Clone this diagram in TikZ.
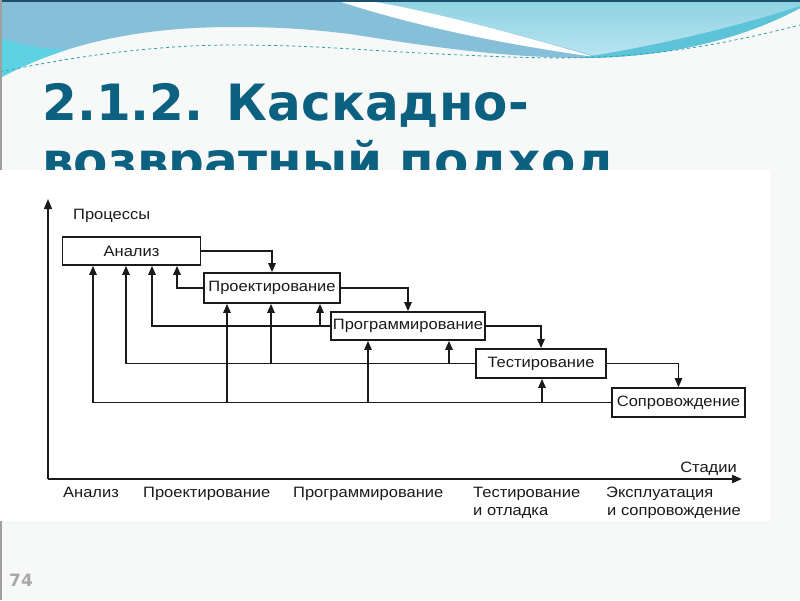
\documentclass[tikz,border=0pt]{standalone}
\usepackage{fontspec}
\setmainfont{DejaVu Sans}
\newfontfamily\diagfont[FakeStretch=1.1]{Liberation Sans}
\usetikzlibrary{arrows.meta}
\definecolor{ink}{HTML}{1A1A1A}
\definecolor{titleblue}{HTML}{0C6080}
\definecolor{slidebg}{HTML}{F7F8F8}
\definecolor{wavemid}{HTML}{85BFD8}
\definecolor{wavecyan}{HTML}{5CD2E2}
\definecolor{wavelightA}{HTML}{8FD2E2}
\definecolor{wavelightB}{HTML}{B8E4F0}
\definecolor{waveteal}{HTML}{5CC3D8}
\definecolor{dashcol}{HTML}{2A9FB0}
\definecolor{topdark}{HTML}{1D4F6E}
\definecolor{pagegray}{HTML}{A8A8A8}
\tikzset{
  box/.style={draw=ink, line width=1.8pt, fill=white, inner sep=0pt,
    font=\diagfont\fontsize{15}{18}\selectfont, text=ink},
  conn/.style={draw=ink, line width=1.4pt},
  arr/.style={conn, -{Triangle[length=9pt,width=7.5pt]}},
  lab/.style={font=\diagfont\fontsize{15}{18}\selectfont, text=ink, inner sep=0pt},
  titletext/.style={anchor=base west, inner sep=0pt, text=titleblue,
    font=\bfseries\fontsize{50}{60}\selectfont},
}
\begin{document}
\begin{tikzpicture}[x=1pt,y=-1pt]
\useasboundingbox (0,0) rectangle (800,600);
% slide background
\fill[slidebg] (0,0) rectangle (800,600);
% wave header
\begin{scope}
\clip (0,0) -- (800,0) -- (800,8) .. controls (750,35) and (680,56) .. (590,58)
  .. controls (500,58) and (420,45) .. (350,34) .. controls (300,28) and (270,27) .. (233,27)
  .. controls (150,27) and (70,40) .. (0,78) -- cycle;
\fill[wavemid] (0,0) rectangle (800,100);
\fill[wavecyan] (0,38) .. controls (25,46) and (50,50) .. (75,50) -- (75,100) -- (0,100) -- cycle;
\shade[top color=wavelightA, bottom color=wavelightB] (362,0) .. controls (420,8) and (520,35) .. (595,56) -- (800,56) -- (800,0) -- cycle;
\fill[white] (335,0) .. controls (420,28) and (510,45) .. (595,57) .. controls (520,35) and (420,8) .. (362,0) -- cycle;
\fill[waveteal] (565,60) .. controls (650,48) and (740,26) .. (800,6) -- (800,100) -- (565,100) -- cycle;
\end{scope}
\draw[dashcol, dashed, line width=0.8pt] (0,72) .. controls (80,55) and (160,45) .. (233,45)
  .. controls (310,45) and (360,50) .. (420,53) .. controls (500,57) and (560,60) .. (620,56)
  .. controls (700,50) and (760,35) .. (800,25);
\fill[topdark] (0,0) rectangle (800,1.5);
\draw[gray!75, line width=1.5pt] (0.75,0) -- (0.75,600);
% title
\node[titletext] (t1) at (42,120) {2.1.2. Каскадно-};
\node[titletext] (t2) at (42,178) {возвратный подход};
% pasted picture
\fill[white] (0,170) rectangle (770,521);
% page number
\node[anchor=base west, inner sep=0pt, text=pagegray, font=\bfseries\fontsize{17}{20}\selectfont] (pg) at (9,586) {74};
% axes
\coordinate (O) at (48,479);
\coordinate (Ytop) at (48,199);
\coordinate (Xend) at (742,479);
\draw[conn, -{Triangle[length=10pt,width=8pt]}] (O) -- (Ytop);
\draw[draw=ink, line width=2pt, -{Triangle[length=10pt,width=8pt]}] (O) -- (Xend);
% boxes
\node[box, minimum width=138pt, minimum height=28pt] (A) at (131.5,251) {Анализ};
\node[box, minimum width=136pt, minimum height=30pt] (P) at (272,288) {Проектирование};
\node[box, minimum width=154pt, minimum height=28pt] (G) at (408,326) {Программирование};
\node[box, minimum width=130pt, minimum height=29pt] (T) at (541,363.5) {Тестирование};
\node[box, minimum width=133pt, minimum height=29pt] (S) at (678.5,402.5) {Сопровождение};
% x positions for feedback arrows
\coordinate (x93) at (93,0);
\coordinate (x126) at (126,0);
\coordinate (x152) at (152,0);
\coordinate (x177) at (177,0);
\coordinate (x227) at (227,0);
\coordinate (x271) at (271,0);
\coordinate (x320) at (320,0);
\coordinate (x368) at (368,0);
\coordinate (x449) at (449,0);
\coordinate (x542) at (542,0);
% forward
\draw[arr] (A.east) -| (P.north);
\draw[arr] (P.east) -| (G.north);
\draw[arr] (G.east) -| (T.north);
\draw[arr] (T.east) -| (S.north);
% feedback
\draw[arr] (P.west) -| (A.south -| x177);
\draw[arr] (G.west) -| (A.south -| x152);
\draw[arr] (G.west -| x320) -- (P.south -| x320);
\draw[arr] (T.west) -| (A.south -| x126);
\draw[arr] (T.west -| x271) -- (P.south -| x271);
\draw[arr] (T.west -| x449) -- (G.south -| x449);
\draw[arr] (S.west) -| (A.south -| x93);
\draw[arr] (S.west -| x227) -- (P.south -| x227);
\draw[arr] (S.west -| x368) -- (G.south -| x368);
\draw[arr] (S.west -| x542) -- (T.south -| x542);
% labels
\node[lab, anchor=base west] (lp) at (73,219) {Процессы};
\node[lab, anchor=base east] (ls) at (737,472) {Стадии};
\node[lab, anchor=base west] (s1) at (63,497) {Анализ};
\node[lab, anchor=base west] (s2) at (143,497) {Проектирование};
\node[lab, anchor=base west] (s3) at (293,497) {Программирование};
\node[lab, anchor=base west] (s4a) at (473,497) {Тестирование};
\node[lab, anchor=base west] (s4b) at (473,515) {и отладка};
\node[lab, anchor=base west] (s5a) at (606,497) {Эксплуатация};
\node[lab, anchor=base west] (s5b) at (607,515) {и сопровождение};
\end{tikzpicture}
\end{document}
